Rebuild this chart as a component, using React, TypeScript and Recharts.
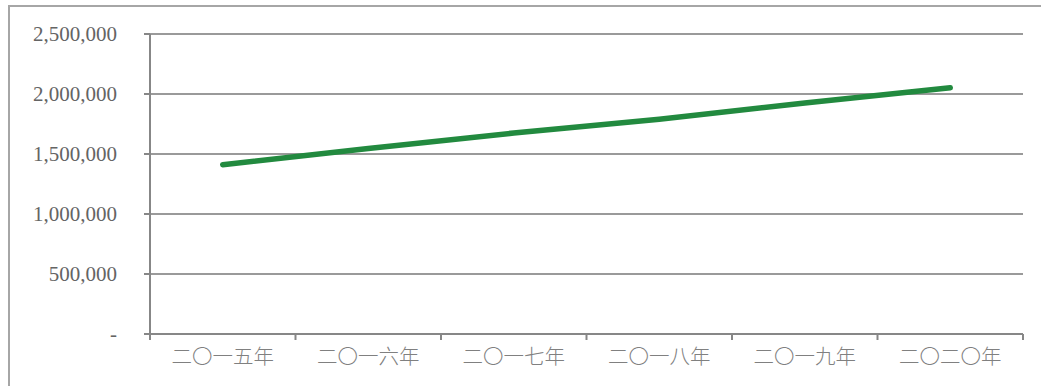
import { CartesianGrid, Line, LineChart, XAxis, YAxis } from "recharts";

const years = ["二〇一五年", "二〇一六年", "二〇一七年", "二〇一八年", "二〇一九年", "二〇二〇年"];
const totals = [1410000, 1545000, 1675000, 1790000, 1925000, 2052000];
const yTicks = [0, 500000, 1000000, 1500000, 2000000, 2500000];

const rows = years.map((year, i) => ({ year, total: totals[i] }));

const CHART_W = 1031;
const CHART_H = 380;
const MARGIN = { top: 27, right: 18, bottom: 0, left: 0 };
const Y_AXIS_W = 140;
// width of one category band, used to put the x ticks on the band edges
const BAND = (CHART_W - MARGIN.left - MARGIN.right - Y_AXIS_W) / years.length;

const AXIS_GREY = "#878787";

function YearTick(props: any) {
  const { x, y, payload, index } = props;
  const last = index === years.length - 1;
  return (
    <g>
      <line x1={x - BAND / 2} x2={x - BAND / 2} y1={y - 8} y2={y - 2} stroke={AXIS_GREY} strokeWidth={2} />
      {last && (
        <line x1={x + BAND / 2} x2={x + BAND / 2} y1={y - 8} y2={y - 2} stroke={AXIS_GREY} strokeWidth={2} />
      )}
      <text
        x={x}
        y={y + 22}
        textAnchor="middle"
        fill="#808080"
        fontSize={20.5}
        fontWeight={300}
        fontFamily='"Noto Sans CJK SC", sans-serif'
      >
        {payload.value}
      </text>
    </g>
  );
}

export default function App() {
  return (
    <div
      style={{
        position: "absolute",
        left: 8,
        top: 5,
        width: 1040,
        height: 390,
        border: "2px solid #a6a6a6",
        boxSizing: "border-box",
      }}
    >
      <LineChart width={CHART_W} height={CHART_H} data={rows} margin={MARGIN}>
        <CartesianGrid vertical={false} stroke="#9a9a9a" strokeWidth={2} />
        <XAxis
          dataKey="year"
          scale="band"
          stroke={AXIS_GREY}
          strokeWidth={2}
          tickLine={false}
          tick={<YearTick />}
          height={53}
          interval={0}
        />
        <YAxis
          domain={[0, 2500000]}
          ticks={yTicks}
          width={Y_AXIS_W}
          stroke={AXIS_GREY}
          strokeWidth={2}
          tickSize={6}
          tickMargin={27}
          tick={{ fill: "#646464", fontSize: 21, fontFamily: '"Liberation Serif", serif' }}
          tickFormatter={(v: number) => (v === 0 ? "-" : v.toLocaleString("en-US"))}
        />
        <Line
          type="linear"
          dataKey="total"
          stroke="#228a3f"
          strokeWidth={5.5}
          strokeLinecap="round"
          dot={false}
          isAnimationActive={false}
        />
      </LineChart>
    </div>
  );
}
